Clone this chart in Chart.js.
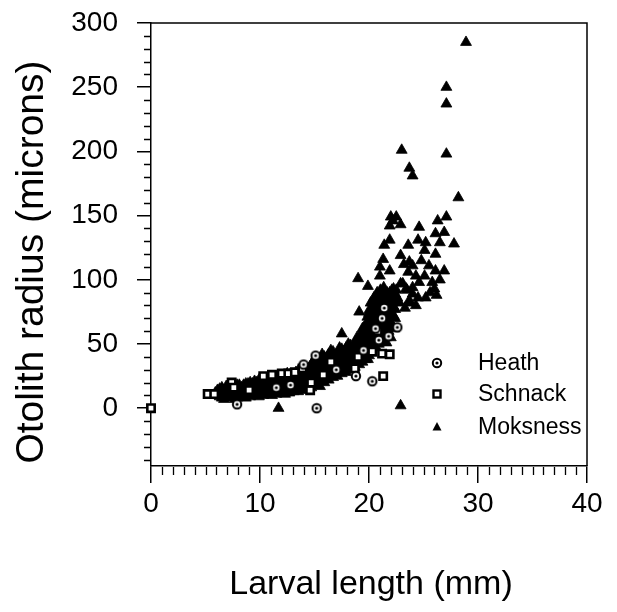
<!DOCTYPE html>
<html><head><meta charset="utf-8">
<script src="https://cdn.jsdelivr.net/npm/chart.js@4.4.1/dist/chart.umd.min.js"></script>
<style>html,body{margin:0;padding:0;background:#fff}#wrap{width:617px;height:612px;position:relative}</style>
</head><body><div id="wrap"><canvas id="c" width="617" height="612"></canvas></div>
<script>
// ---- data ----
const seriesNames = ['Heath', 'Schnack', 'Moksness'];
const xTitle = 'Larval length (mm)';
const yTitle = 'Otolith radius (microns)';
const xTicks = [0, 10, 20, 30, 40];
const yTicks = [0, 50, 100, 150, 200, 250, 300];

const heathX = [7.9, 15.1, 15.2, 18.8, 20.3, 21.8, 22.6, 14.0, 12.8, 17.0, 19.5, 20.6, 21.2, 21.4, 20.9, 11.5];
const heathY = [3, 41, 0, 25, 21, 56, 63, 34, 18, 30, 45, 62, 70, 78, 53, 16];

const schnackX = [0, 5.2, 5.8, 7.4, 7.6, 10.3, 11.1, 12.0, 12.6, 13.2, 13.9, 14.6, 14.7, 18.7, 20.3, 21.2, 21.9, 21.3, 9.0, 15.8, 16.5, 19.0, 20.8];
const schnackY = [0, 11, 11, 20, 16, 25, 26, 27, 27, 28, 31, 14, 20, 31, 44, 42.5, 42, 25, 14, 26, 36, 40, 60];

const moksnessX = [
  28.9, 27.1, 27.1, 23.0, 27.1, 23.7, 24.0, 28.2,
  22.0, 22.5, 22.9, 21.9, 24.6, 26.3, 27.1, 26.1, 26.9, 27.8, 21.9, 21.4, 23.6, 24.5, 25.2, 26.5, 25.1, 26.1, 21.3, 22.9, 23.7, 24.8, 25.5, 26.9, 21.0, 21.9, 23.2, 24.0, 23.6, 24.3, 25.1, 19.0, 26.1, 22.2,
  19.9, 21.0, 23.1, 25.8, 26.0, 25.2, 23.7, 22.5, 23.4, 24.0, 22.9, 24.0, 23.5, 21.9, 21.1, 22.6, 24.6, 23.7, 24.5, 22.8, 23.3, 24.3, 25.6, 26.5, 26.2,
  11.7, 22.9, 17.5, 19.9, 19.1, 20.0, 22.0, 21.6, 22.3,
  5.9, 5.9,
  6.3, 6.3, 6.3,
  6.7, 6.7, 6.7,
  7.1, 7.1, 7.1,
  7.5, 7.5, 7.5,
  7.9, 7.9, 7.9, 7.9,
  8.3, 8.3, 8.3,
  8.7, 8.7, 8.7, 8.7,
  9.1, 9.1, 9.1, 9.1,
  9.5, 9.5, 9.5, 9.5,
  9.9, 9.9, 9.9, 9.9,
  10.3, 10.3, 10.3,
  10.7, 10.7, 10.7, 10.7,
  11.1, 11.1, 11.1, 11.1,
  11.5, 11.5, 11.5, 11.5,
  11.9, 11.9, 11.9,
  12.3, 12.3, 12.3, 12.3,
  12.7, 12.7, 12.7, 12.7,
  13.1, 13.1, 13.1,
  13.5, 13.5, 13.5, 13.5,
  13.9, 13.9, 13.9, 13.9,
  14.3, 14.3, 14.3,
  14.7, 14.7, 14.7, 14.7,
  15.1, 15.1, 15.1, 15.1,
  15.5, 15.5, 15.5, 15.5,
  15.9, 15.9, 15.9, 15.9,
  16.3, 16.3, 16.3, 16.3,
  16.7, 16.7, 16.7, 16.7,
  17.1, 17.1, 17.1, 17.1,
  17.5, 17.5, 17.5, 17.5,
  17.9, 17.9, 17.9, 17.9,
  18.3, 18.3, 18.3, 18.3,
  18.7, 18.7, 18.7, 18.7,
  19.1, 19.1, 19.1, 19.1,
  19.4, 19.4, 19.4, 19.4, 19.4,
  19.7, 19.7, 19.7, 19.7, 19.7,
  20.0, 20.0, 20.0, 20.0, 20.0, 20.0,
  20.3, 20.3, 20.3, 20.3, 20.3, 20.3,
  20.6, 20.6, 20.6, 20.6, 20.6, 20.6,
  20.9, 20.9, 20.9, 20.9, 20.9, 20.9,
  21.2, 21.2, 21.2, 21.2, 21.2, 21.2,
  21.5, 21.5, 21.5, 21.5, 21.5, 21.5,
  21.8, 21.8, 21.8, 21.8, 21.8,
  22.1, 22.1, 22.1, 22.1, 22.1,
  22.4, 22.4, 22.4, 22.4,
  6.1, 6.1,
  6.5, 6.5, 6.5,
  6.9, 6.9, 6.9,
  7.3, 7.3, 7.3,
  7.7, 7.7, 7.7,
  8.1, 8.1, 8.1,
  8.5, 8.5, 8.5,
  8.9, 8.9, 8.9,
  9.3, 9.3, 9.3,
  9.7, 9.7, 9.7,
  10.1, 10.1, 10.1, 10.1,
  10.5, 10.5, 10.5,
  10.9, 10.9, 10.9, 10.9,
  11.3, 11.3, 11.3,
  11.7, 11.7, 11.7, 11.7,
  12.1, 12.1, 12.1,
  12.5, 12.5, 12.5, 12.5,
  12.9, 12.9, 12.9,
  13.3, 13.3, 13.3, 13.3,
  13.7, 13.7, 13.7,
  14.1, 14.1, 14.1, 14.1,
  14.5, 14.5, 14.5,
  14.9, 14.9, 14.9, 14.9,
  15.3, 15.3, 15.3,
  15.7, 15.7, 15.7, 15.7,
  16.1, 16.1, 16.1,
  16.5, 16.5, 16.5, 16.5,
  16.9, 16.9, 16.9,
  17.3, 17.3, 17.3, 17.3,
  17.7, 17.7, 17.7,
  18.1, 18.1, 18.1, 18.1,
  18.5, 18.5, 18.5,
  18.9, 18.9, 18.9, 18.9,
  19.25, 19.25, 19.25, 19.25,
  19.55, 19.55, 19.55, 19.55,
  19.85, 19.85, 19.85, 19.85, 19.85,
  20.15, 20.15, 20.15, 20.15, 20.15, 20.15,
  20.45, 20.45, 20.45, 20.45, 20.45, 20.45,
  20.75, 20.75, 20.75, 20.75, 20.75, 20.75,
  21.05, 21.05, 21.05, 21.05, 21.05, 21.05,
  21.35, 21.35, 21.35, 21.35, 21.35, 21.35,
  21.65, 21.65, 21.65, 21.65, 21.65,
  21.95, 21.95, 21.95, 21.95,
  22.25, 22.25, 22.25, 22.25
];
const moksnessY = [
  285, 250, 237, 201, 198, 187, 181, 164,
  149, 149, 143, 142, 141, 146, 149, 136, 137, 128, 131, 127, 127, 131, 129, 129, 123, 120, 116, 119, 114, 115, 111, 107, 110, 107, 112, 111, 106, 103, 103, 101, 107, 146,
  95, 103, 97, 98, 93, 86, 84, 92, 93, 89, 97, 94, 92, 90, 89, 86, 98, 82, 86, 82, 78, 80, 90, 100, 88,
  0, 2, 58, 38, 75, 76, 55, 51, 62,
  10, 12,
  9, 13, 15,
  7, 11, 14,
  8, 12, 16,
  9, 13, 17,
  8, 11, 15, 18,
  9, 12, 16,
  8, 13, 17, 19,
  9, 12, 16, 20,
  10, 14, 18, 21,
  9, 13, 17, 22,
  10, 15, 19,
  11, 14, 18, 22,
  10, 16, 20, 23,
  11, 15, 19, 24,
  12, 17, 21,
  11, 15, 20, 25,
  12, 18, 22, 26,
  13, 17, 23,
  13, 19, 24, 29,
  14, 18, 25, 30,
  15, 21, 27,
  16, 23, 29, 34,
  18, 22, 28, 35,
  17, 25, 31, 38,
  20, 27, 33, 40,
  22, 29, 36, 42,
  24, 31, 38, 44,
  25, 30, 35, 41,
  27, 33, 39, 46,
  28, 35, 42, 47,
  30, 37, 44, 49,
  32, 39, 46, 51,
  34, 41, 48, 53,
  36, 43, 50, 56, 62,
  38, 46, 53, 59, 65,
  41, 48, 55, 62, 68, 74,
  47, 52, 58, 65, 71, 78,
  48, 55, 61, 68, 75, 82,
  50, 57, 64, 71, 78, 85,
  53, 60, 67, 74, 81, 88,
  56, 63, 70, 77, 84, 90,
  60, 66, 73, 80, 86,
  65, 72, 79, 85, 92,
  70, 77, 83, 89,
  11, 14,
  8, 12, 16,
  9, 13, 17,
  10, 14, 18,
  7, 12, 16,
  10, 14, 18,
  11, 15, 18,
  10, 14, 19,
  11, 15, 19,
  12, 16, 20,
  11, 14, 18, 21,
  12, 17, 21,
  12, 16, 20, 24,
  13, 18, 22,
  13, 17, 21, 25,
  13, 19, 23,
  14, 18, 23, 27,
  15, 20, 25,
  15, 21, 26, 28,
  16, 22, 27,
  17, 23, 28, 32,
  19, 25, 31,
  20, 26, 32, 37,
  21, 27, 33,
  23, 29, 36, 42,
  25, 31, 38,
  27, 33, 40, 45,
  28, 34, 41,
  30, 37, 43, 47,
  31, 38, 44,
  33, 40, 46, 50,
  35, 42, 48,
  37, 44, 50, 55,
  40, 46, 52, 58,
  42, 49, 56, 63,
  44, 51, 58, 65, 71,
  49, 54, 61, 68, 75, 82,
  51, 57, 64, 71, 79, 86,
  53, 60, 67, 74, 82, 90,
  55, 62, 70, 77, 85, 92,
  58, 65, 73, 80, 87, 94,
  62, 69, 76, 83, 90,
  67, 74, 81, 88,
  72, 79, 86, 93
];

// ---- styling ----
const FONT = "'Liberation Sans', Arial, Helvetica, sans-serif";

function makeHeathMarker() {
  const cv = document.createElement('canvas');
  cv.width = 12; cv.height = 12;
  const g = cv.getContext('2d');
  g.beginPath(); g.arc(6, 6, 4.2, 0, Math.PI * 2);
  g.fillStyle = '#fff'; g.fill();
  g.lineWidth = 2; g.strokeStyle = '#000'; g.stroke();
  g.beginPath(); g.arc(6, 6, 1.6, 0, Math.PI * 2);
  g.fillStyle = '#000'; g.fill();
  return cv;
}
const heathMarker = makeHeathMarker();

const toPts = (xs, ys) => xs.map((x, i) => ({ x: x, y: ys[i] }));

const framePlugin = {
  id: 'frameAndExtras',
  afterDraw(chart, args, opts) {
    const ctx = chart.ctx;
    const a = chart.chartArea;
    const xs = chart.scales.x, ys = chart.scales.y;
    ctx.save();
    ctx.strokeStyle = '#000';
    ctx.lineWidth = 1.5;
    ctx.beginPath();
    ctx.moveTo(a.left, a.top); ctx.lineTo(a.right, a.top); ctx.lineTo(a.right, a.bottom);
    ctx.stroke();
    ctx.lineWidth = 1.3;
    ctx.beginPath();
    for (let v = xs.min + 1; v < xs.max; v += 1) {
      if (v % 10 === 0) continue;
      const px = Math.round(xs.getPixelForValue(v)) + 0.5;
      ctx.moveTo(px, a.bottom + 1); ctx.lineTo(px, a.bottom + 9);
    }
    for (let v = -40; v < ys.max; v += 10) {
      if (v % 50 === 0) continue;
      const py = Math.round(ys.getPixelForValue(v)) + 0.5;
      ctx.moveTo(a.left - 7, py); ctx.lineTo(a.left, py);
    }
    ctx.stroke();

    ctx.fillStyle = '#000';
    ctx.textAlign = 'center';
    ctx.textBaseline = 'middle';
    ctx.font = opts.xTitleSize + 'px ' + FONT;
    ctx.fillText(xTitle, opts.xTitlePos[0], opts.xTitlePos[1]);
    ctx.save();
    ctx.translate(opts.yTitlePos[0], opts.yTitlePos[1]);
    ctx.rotate(-Math.PI / 2);
    ctx.font = opts.yTitleSize + 'px ' + FONT;
    ctx.fillText(yTitle, 0, 0);
    ctx.restore();

    ctx.font = opts.legendSize + 'px ' + FONT;
    ctx.textAlign = 'left';
    const lx = opts.legendSymbolX, tx = opts.legendTextX;
    opts.legendRows.forEach((ry, i) => {
      if (i === 0) {
        ctx.drawImage(heathMarker, lx - 6, ry - 6);
      } else if (i === 1) {
        ctx.fillStyle = '#fff';
        ctx.fillRect(lx - 3.5, ry - 3.5, 7, 7);
        ctx.lineWidth = 2.4; ctx.strokeStyle = '#000';
        ctx.strokeRect(lx - 3.5, ry - 3.5, 7, 7);
      } else {
        ctx.fillStyle = '#000';
        ctx.beginPath();
        ctx.moveTo(lx, ry - 5); ctx.lineTo(lx + 4.5, ry + 3.5); ctx.lineTo(lx - 4.5, ry + 3.5);
        ctx.closePath(); ctx.fill();
      }
      ctx.fillStyle = '#000';
      ctx.fillText(seriesNames[i], tx, ry + 1);
    });
    ctx.restore();
  }
};

const tickFont = { family: FONT, size: 28 };

new Chart(document.getElementById('c'), {
  type: 'scatter',
  data: {
    datasets: [
      { label: seriesNames[0], data: toPts(heathX, heathY), pointStyle: heathMarker, pointRadius: 5, clip: false, order: 0 },
      { label: seriesNames[1], data: toPts(schnackX, schnackY), pointStyle: 'rect', pointRadius: 5.2, backgroundColor: '#fff', borderColor: '#000', borderWidth: 2.6, clip: false, order: 1 },
      { label: seriesNames[2], data: toPts(moksnessX, moksnessY), pointStyle: 'triangle', pointRadius: 6.3, backgroundColor: '#000', borderColor: '#000', borderWidth: 0.8, clip: false, order: 2 }
    ]
  },
  options: {
    responsive: false,
    animation: false,
    devicePixelRatio: 1,
    events: [],
    layout: { padding: { left: 0, top: 23, right: 30, bottom: 0 } },
    plugins: {
      legend: { display: false },
      tooltip: { enabled: false },
      frameAndExtras: {
        xTitleSize: 34, xTitlePos: [371, 585],
        yTitleSize: 39, yTitlePos: [32, 262],
        legendSize: 23, legendSymbolX: 437, legendTextX: 478, legendRows: [363, 394, 427]
      }
    },
    scales: {
      x: {
        type: 'linear', position: 'bottom', min: 0, max: 40,
        afterBuildTicks: (axis) => { axis.ticks = xTicks.map(v => ({ value: v })); },
        afterFit: (s) => { s.height = 146; s.paddingLeft = 0; s.paddingRight = 0; },
        ticks: { font: tickFont, color: '#000', padding: 4, maxRotation: 0, autoSkip: false },
        grid: { drawOnChartArea: false, drawTicks: true, tickLength: 17, color: '#000', lineWidth: 1.5 },
        border: { display: true, color: '#000', width: 1.5 }
      },
      y: {
        type: 'linear', position: 'left', min: -45, max: 300,
        afterBuildTicks: (axis) => { axis.ticks = yTicks.map(v => ({ value: v })); },
        afterFit: (s) => { s.width = 151; s.paddingTop = 0; s.paddingBottom = 0; },
        ticks: { font: tickFont, color: '#000', padding: 19, autoSkip: false },
        grid: { drawOnChartArea: false, drawTicks: true, tickLength: 14, color: '#000', lineWidth: 1.5 },
        border: { display: true, color: '#000', width: 1.5 }
      }
    }
  },
  plugins: [framePlugin]
});
</script>
</body></html>
